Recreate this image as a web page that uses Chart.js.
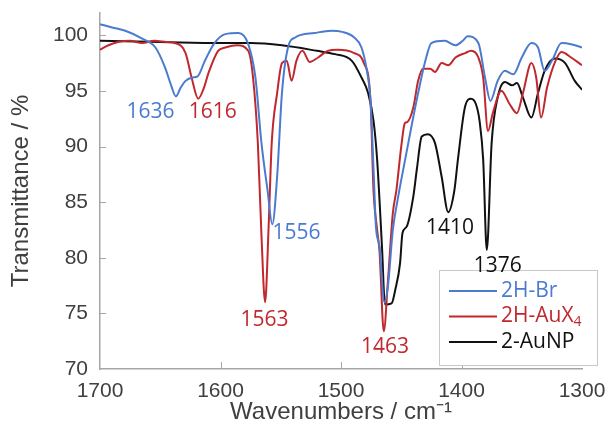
<!DOCTYPE html>
<html>
<head>
<meta charset="utf-8">
<script src="https://cdn.jsdelivr.net/npm/chart.js@4.4.1/dist/chart.umd.min.js"></script>
<style>
  html, body { margin: 0; padding: 0; background: #fff; }
</style>
</head>
<body>
<canvas id="ir" width="608" height="429"></canvas>
<script>
// --- spectra (wavenumber / cm-1, transmittance / %) ---
const brWn = [1700, 1690, 1679, 1665, 1654, 1646, 1641, 1637, 1633, 1629, 1623, 1619, 1613, 1605, 1596, 1585, 1577, 1571, 1566, 1561, 1557, 1553, 1549, 1544, 1538, 1522, 1508, 1499, 1489, 1483, 1479, 1475.5, 1473, 1471, 1468, 1464, 1461, 1457, 1453, 1450, 1441, 1436, 1430, 1425, 1414, 1405, 1399, 1395, 1386, 1380.5, 1376, 1370, 1364, 1357, 1350, 1342, 1336.5, 1331, 1325, 1317, 1309, 1300];
const brT  = [101.0, 100.7, 100.4, 99.7, 98.9, 97.1, 95.5, 94.5, 95.3, 95.9, 96.2, 96.3, 97.7, 99.3, 100.1, 100.2, 99.2, 96.2, 90.3, 86.1, 83.0, 87.3, 94.8, 98.9, 99.8, 100.2, 100.4, 100.3, 99.8, 98.9, 97.1, 94.1, 88.0, 82.8, 81.0, 76.0, 77.5, 82.5, 85.2, 87.0, 92.1, 94.8, 97.7, 99.3, 99.5, 99.1, 99.5, 99.9, 99.3, 96.2, 94.1, 95.9, 96.8, 96.5, 98.0, 99.3, 98.9, 96.8, 97.7, 99.3, 99.2, 98.9];

const auWn = [1700, 1693, 1685, 1675, 1665, 1655, 1645, 1638, 1629, 1624, 1618.5, 1614, 1610, 1602, 1596, 1586, 1577, 1573, 1569, 1566, 1563, 1560, 1557.5, 1553, 1549, 1545, 1541, 1537, 1532, 1526, 1519, 1511, 1503, 1489, 1481, 1475.5, 1473, 1470, 1468, 1464.5, 1461, 1457, 1454, 1450, 1447, 1445, 1440, 1436, 1432, 1426, 1422, 1416.5, 1411, 1405, 1397, 1392, 1386, 1382, 1378, 1374, 1367, 1360, 1354, 1349, 1342, 1338, 1334, 1329, 1322, 1317, 1309, 1300];
const auT  = [98.7, 99.1, 99.4, 99.5, 99.3, 99.5, 99.4, 99.3, 98.4, 96.2, 94.3, 95.2, 96.6, 98.6, 98.9, 99.1, 98.6, 96.2, 90.3, 82.0, 76.0, 83.0, 90.3, 94.8, 97.5, 97.7, 95.9, 97.7, 98.6, 97.6, 98.0, 98.6, 98.7, 98.4, 97.5, 94.1, 86.0, 82.5, 80.5, 73.4, 78.0, 84.0, 86.1, 90.0, 92.1, 92.2, 93.5, 95.9, 97.0, 97.0, 96.7, 97.5, 97.3, 98.0, 98.4, 98.6, 98.0, 96.2, 91.4, 93.0, 95.0, 93.8, 93.0, 94.8, 97.5, 96.2, 92.6, 95.3, 97.7, 98.5, 98.0, 97.3];

const npWn = [1700, 1650, 1600, 1575, 1549, 1520, 1505, 1491, 1483, 1477.5, 1473, 1470, 1466, 1463.5, 1458, 1455, 1451, 1449, 1445.5, 1440, 1437, 1433, 1428, 1422, 1416.5, 1411, 1406, 1403, 1397, 1392, 1388, 1385, 1382, 1379, 1375, 1370, 1364, 1358, 1354, 1349, 1342, 1336.5, 1331, 1322.5, 1314, 1306, 1300];
const npT  = [99.5, 99.4, 99.3, 99.3, 99.1, 98.6, 98.3, 97.7, 96.2, 94.8, 92.3, 88.8, 81.0, 75.8, 75.9, 77.1, 79.5, 82.2, 82.8, 85.5, 88.0, 90.9, 91.1, 90.3, 87.3, 84.1, 86.0, 88.8, 93.6, 94.3, 93.8, 92.3, 88.8, 80.7, 90.3, 94.4, 95.8, 95.5, 95.7, 94.4, 92.6, 94.8, 96.8, 97.9, 97.5, 95.9, 95.1];

const seriesNames  = ['2H-Br', '2H-AuX4', '2-AuNP'];
const seriesColors = ['#4a7bcf', '#c0282e', '#111111'];

// peak labels: text, anchor wavenumber, anchor transmittance, series index
const peakText = ['1636', '1616', '1556', '1563', '1463', '1410', '1376'];
const peakWn   = [1658, 1606.5, 1537, 1563.5, 1463.5, 1409.5, 1370];
const peakT    = [93.1, 93.1, 82.2, 74.4, 72.0, 82.7, 79.3];
const peakSer  = [0, 1, 0, 1, 1, 2, 2];

const xTicks = [1700, 1600, 1500, 1400, 1300];
const yTicks = [70, 75, 80, 85, 90, 95, 100];

const toPoints = (wn, t) => wn.map((w, i) => ({ x: w, y: t[i] }));

const axisGrey = '#a6a6a6';
const textGrey = '#404040';
const tickFont = '21px "Liberation Sans"';

// tick marks and labels drawn by hand so Chart.js does not pad the plot for them
function drawAxes(chart) {
  const { ctx, chartArea, scales: { x, y } } = chart;
  ctx.save();
  ctx.strokeStyle = axisGrey;
  ctx.lineWidth = 1;
  xTicks.slice(1, -1).forEach(v => {
    const px = Math.round(x.getPixelForValue(v)) + 0.5;
    ctx.beginPath();
    ctx.moveTo(px, chartArea.bottom);
    ctx.lineTo(px, chartArea.bottom - 7);
    ctx.stroke();
  });
  yTicks.slice(1).forEach(v => {
    const py = Math.round(y.getPixelForValue(v)) + 0.5;
    ctx.beginPath();
    ctx.moveTo(chartArea.left, py);
    ctx.lineTo(chartArea.left + 6, py);
    ctx.stroke();
  });
  ctx.fillStyle = textGrey;
  ctx.font = tickFont;
  ctx.textBaseline = 'middle';
  ctx.textAlign = 'center';
  xTicks.forEach(v => ctx.fillText(String(v), x.getPixelForValue(v), chartArea.bottom + 22));
  ctx.textAlign = 'right';
  yTicks.forEach(v => ctx.fillText(String(v), chartArea.left - 12, y.getPixelForValue(v)));
  ctx.restore();
}

function drawLegend(chart) {
  const { ctx, chartArea } = chart;
  const bx = chartArea.right - 143, by = chartArea.bottom - 99, bw = 158, bh = 95;
  ctx.save();
  ctx.fillStyle = '#fff';
  ctx.fillRect(bx, by, bw, bh);
  ctx.strokeStyle = '#c8c8c8';
  ctx.lineWidth = 1;
  ctx.strokeRect(bx + 0.5, by + 0.5, bw, bh);
  ctx.textBaseline = 'middle';
  ctx.textAlign = 'left';
  seriesNames.forEach((name, i) => {
    const ry = by + 21 + i * 25.5;
    ctx.strokeStyle = seriesColors[i];
    ctx.lineWidth = 2;
    ctx.beginPath();
    ctx.moveTo(bx + 10, ry);
    ctx.lineTo(bx + 58, ry);
    ctx.stroke();
    ctx.fillStyle = seriesColors[i];
    ctx.font = '21px "Open Sans"';
    if (name.endsWith('4')) {
      const base = name.slice(0, -1);
      ctx.fillText(base, bx + 62, ry);
      const w = ctx.measureText(base).width;
      ctx.font = '14px "Open Sans"';
      ctx.fillText('4', bx + 62 + w, ry + 6);
    } else {
      ctx.fillText(name, bx + 62, ry);
    }
  });
  ctx.restore();
}

function drawPeakLabels(chart) {
  const { ctx, scales: { x, y } } = chart;
  ctx.save();
  ctx.font = '21px "Open Sans"';
  ctx.textAlign = 'center';
  ctx.textBaseline = 'middle';
  peakText.forEach((t, i) => {
    ctx.fillStyle = seriesColors[peakSer[i]];
    ctx.fillText(t, x.getPixelForValue(peakWn[i]), y.getPixelForValue(peakT[i]));
  });
  ctx.restore();
}

const decorations = {
  id: 'decorations',
  afterDatasetsDraw(chart) {
    drawAxes(chart);
    drawLegend(chart);
    drawPeakLabels(chart);
  }
};

const makeSet = (i, wn, t) => ({
  label: seriesNames[i],
  data: toPoints(wn, t),
  borderColor: seriesColors[i],
  borderWidth: 2,
  pointRadius: 0,
  cubicInterpolationMode: 'monotone',
  fill: false
});

new Chart(document.getElementById('ir'), {
  type: 'line',
  data: {
    datasets: [
      makeSet(0, brWn, brT),
      makeSet(1, auWn, auT),
      makeSet(2, npWn, npT)
    ]
  },
  options: {
    responsive: false,
    animation: false,
    layout: { padding: { left: 0, right: 26, top: 13, bottom: 0 } },
    plugins: {
      legend: { display: false },
      tooltip: { enabled: false }
    },
    scales: {
      x: {
        type: 'linear',
        reverse: true,
        min: 1300,
        max: 1700,
        afterFit: s => { s.height = 60; },
        grid: { display: false, drawTicks: false },
        border: { display: true, color: axisGrey, width: 1.5 },
        ticks: { display: false },
        title: {
          display: true,
          text: 'Wavenumbers / cm⁻¹',
          color: textGrey,
          font: { family: 'Liberation Sans', size: 24 },
          padding: { top: 0, bottom: 2 }
        }
      },
      y: {
        min: 70,
        max: 102,
        afterFit: s => { s.width = 100; },
        grid: { display: false, drawTicks: false },
        border: { display: true, color: axisGrey, width: 1.5 },
        ticks: { display: false },
        title: {
          display: true,
          text: 'Transmittance / %',
          color: textGrey,
          font: { family: 'Liberation Sans', size: 24 },
          padding: { top: 7, bottom: 0 }
        }
      }
    }
  },
  plugins: [decorations]
});
</script>
</body>
</html>
